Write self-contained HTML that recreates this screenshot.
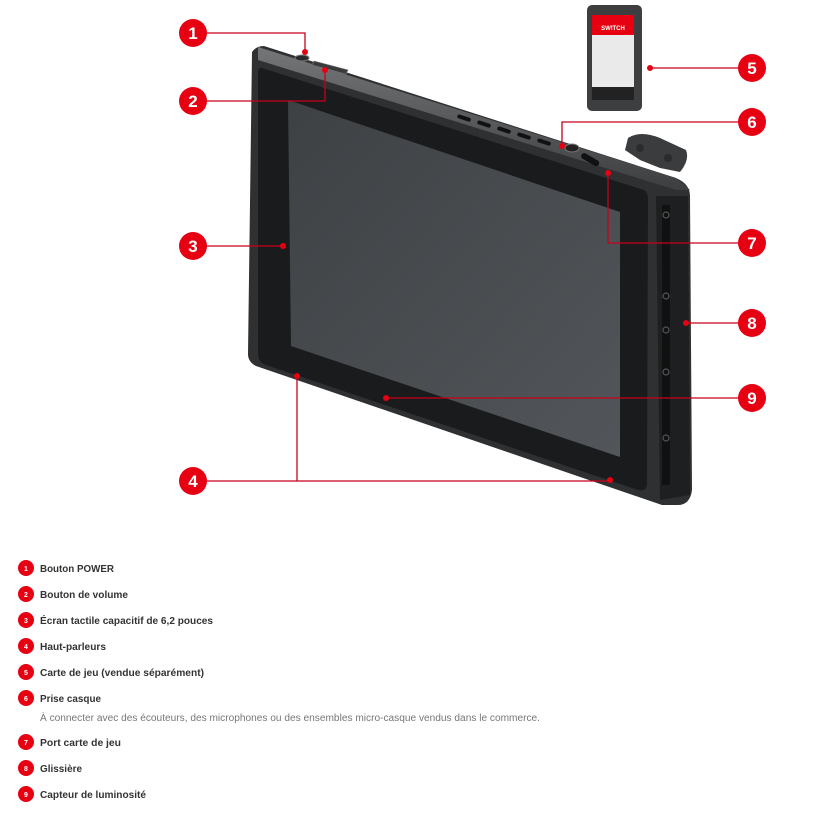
<!DOCTYPE html>
<html><head><meta charset="utf-8"><style>
body{margin:0;background:#fff;width:824px;height:822px;overflow:hidden;font-family:"Liberation Sans",sans-serif}
</style></head><body>
<svg width="824" height="822" viewBox="0 0 824 822" xmlns="http://www.w3.org/2000/svg">
<defs>
<linearGradient id="scr" x1="0" y1="0" x2="1" y2="1"><stop offset="0" stop-color="#3e4144"/><stop offset="1" stop-color="#52565a"/></linearGradient>
<linearGradient id="top" x1="0" y1="0" x2="0" y2="1"><stop offset="0" stop-color="#747678"/><stop offset="1" stop-color="#3c3e40"/></linearGradient>
</defs>
<path d="M252 52 Q256 46 264 46 L676 178 Q690 184 690 196 L692 490 Q690 506 676 505 L662 505 L256 366 Q248 362 248 354 Z" fill="#2e3032"/>
<path d="M258 47 L676 178 L690 190 L676 190 L258 60 Z" fill="url(#top)"/>
<path d="M262 68 L644 190 Q648 192 648 200 L647 484 Q646 492 638 490 L266 365 Q258 362 258 354 L258 74 Q258 67 262 68 Z" fill="#1a1b1c"/>
<path d="M288 100 L620 212 L620 457 L291 346 Z" fill="url(#scr)"/>
<path d="M656 196 L688 196 L690 495 L660 500 Z" fill="#1e1f20"/>
<rect x="662" y="205" width="8" height="280" fill="#111"/>
<g fill="none" stroke="#555" stroke-width="1.2">
<circle cx="666" cy="215" r="3"/><circle cx="666" cy="296" r="3"/><circle cx="666" cy="330" r="3"/><circle cx="666" cy="372" r="3"/><circle cx="666" cy="438" r="3"/>
</g>
<g fill="#111">
<rect x="458" y="114" width="14" height="4" rx="2" transform="rotate(18 458 114)"/>
<rect x="478" y="120" width="14" height="4" rx="2" transform="rotate(18 478 120)"/>
<rect x="498" y="126" width="14" height="4" rx="2" transform="rotate(18 498 126)"/>
<rect x="518" y="132" width="14" height="4" rx="2" transform="rotate(18 518 132)"/>
<rect x="538" y="138" width="14" height="4" rx="2" transform="rotate(18 538 138)"/>
<rect x="583" y="152" width="20" height="6" rx="3" transform="rotate(30 583 152)"/>
</g>
<ellipse cx="302" cy="58" rx="7" ry="3" fill="#2a2a2a" stroke="#777"/>
<path d="M314 61 L348 70 L346 74 L312 65 Z" fill="#3a3b3c" stroke="#777" stroke-width=".6"/>
<ellipse cx="572" cy="148" rx="7" ry="4" fill="#222" stroke="#777"/>
<path d="M628 138 Q640 130 660 138 L686 150 Q690 160 680 172 L660 168 L640 160 L625 150 Z" fill="#3a3c3e"/>
<circle cx="640" cy="148" r="4" fill="#2a2b2c"/><circle cx="668" cy="158" r="4" fill="#2a2b2c"/>
<rect x="587" y="5" width="55" height="106" rx="5" fill="#3c3e40"/>
<rect x="592" y="15" width="42" height="72" fill="#eaeaea"/>
<rect x="592" y="15" width="42" height="20" fill="#e60012"/>
<text x="613" y="30" font-size="6" fill="#fff" font-weight="bold" text-anchor="middle">SWITCH</text>
<rect x="592" y="87" width="42" height="13" fill="#222"/>
<g stroke="#c8001a" stroke-width="1.3" fill="none">
<polyline points="193,33 305,33 305,52"/>
<polyline points="193,101 325,101 325,70"/>
<line x1="193" y1="246" x2="283" y2="246"/>
<polyline points="193,481 610,481"/><polyline points="297,373 297,481"/>
<line x1="650" y1="68" x2="752" y2="68"/>
<polyline points="752,122 562,122 562,146"/>
<polyline points="752,243 608,243 608,173"/>
<line x1="686" y1="323" x2="752" y2="323"/>
<line x1="386" y1="398" x2="752" y2="398"/>
</g>
<g fill="#e60012">
<circle cx="305" cy="52" r="3"/><circle cx="325" cy="70" r="3"/><circle cx="283" cy="246" r="3"/>
<circle cx="297" cy="376" r="3"/><circle cx="610" cy="480" r="3"/><circle cx="650" cy="68" r="3"/>
<circle cx="562" cy="146" r="3"/><circle cx="608" cy="173" r="3"/><circle cx="686" cy="323" r="3"/><circle cx="386" cy="398" r="3"/>
</g>
<g font-size="17" font-weight="bold" fill="#fff" text-anchor="middle">
<circle cx="193" cy="33" r="14" fill="#e60012"/><text x="193" y="39">1</text>
<circle cx="193" cy="101" r="14" fill="#e60012"/><text x="193" y="107">2</text>
<circle cx="193" cy="246" r="14" fill="#e60012"/><text x="193" y="252">3</text>
<circle cx="193" cy="481" r="14" fill="#e60012"/><text x="193" y="487">4</text>
<circle cx="752" cy="68" r="14" fill="#e60012"/><text x="752" y="74">5</text>
<circle cx="752" cy="122" r="14" fill="#e60012"/><text x="752" y="128">6</text>
<circle cx="752" cy="243" r="14" fill="#e60012"/><text x="752" y="249">7</text>
<circle cx="752" cy="323" r="14" fill="#e60012"/><text x="752" y="329">8</text>
<circle cx="752" cy="398" r="14" fill="#e60012"/><text x="752" y="404">9</text>
</g>
<g font-size="7" font-weight="bold" fill="#fff" text-anchor="middle">
<circle cx="26" cy="568" r="8" fill="#e60012"/><text x="26" y="571">1</text>
<circle cx="26" cy="594" r="8" fill="#e60012"/><text x="26" y="597">2</text>
<circle cx="26" cy="620" r="8" fill="#e60012"/><text x="26" y="623">3</text>
<circle cx="26" cy="646" r="8" fill="#e60012"/><text x="26" y="649">4</text>
<circle cx="26" cy="672" r="8" fill="#e60012"/><text x="26" y="675">5</text>
<circle cx="26" cy="698" r="8" fill="#e60012"/><text x="26" y="701">6</text>
<circle cx="26" cy="742" r="8" fill="#e60012"/><text x="26" y="745">7</text>
<circle cx="26" cy="768" r="8" fill="#e60012"/><text x="26" y="771">8</text>
<circle cx="26" cy="794" r="8" fill="#e60012"/><text x="26" y="797">9</text>
</g>
<g font-size="10.5" font-weight="bold" fill="#333">
<text x="40" y="572" textLength="74" lengthAdjust="spacingAndGlyphs">Bouton POWER</text>
<text x="40" y="598" textLength="88" lengthAdjust="spacingAndGlyphs">Bouton de volume</text>
<text x="40" y="624" textLength="173" lengthAdjust="spacingAndGlyphs">Écran tactile capacitif de 6,2 pouces</text>
<text x="40" y="650" textLength="66" lengthAdjust="spacingAndGlyphs">Haut-parleurs</text>
<text x="40" y="676" textLength="164" lengthAdjust="spacingAndGlyphs">Carte de jeu (vendue séparément)</text>
<text x="40" y="702" textLength="61" lengthAdjust="spacingAndGlyphs">Prise casque</text>
<text x="40" y="746" textLength="81" lengthAdjust="spacingAndGlyphs">Port carte de jeu</text>
<text x="40" y="772" textLength="42" lengthAdjust="spacingAndGlyphs">Glissière</text>
<text x="40" y="798" textLength="106" lengthAdjust="spacingAndGlyphs">Capteur de luminosité</text>
</g>
<text x="40" y="721" font-size="10" fill="#777" textLength="500" lengthAdjust="spacingAndGlyphs">À connecter avec des écouteurs, des microphones ou des ensembles micro-casque vendus dans le commerce.</text>
</svg>
</body></html>
